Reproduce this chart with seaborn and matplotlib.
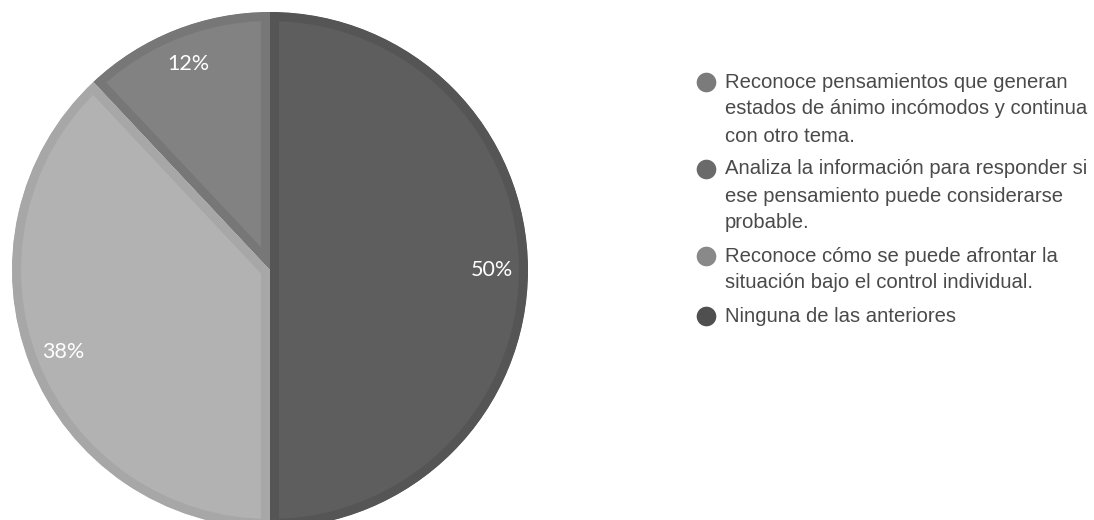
import matplotlib
matplotlib.use("Agg")
import matplotlib.pyplot as plt
import seaborn as sns

sns.set_theme(style="white")

# Response categories (legend order) and their shares in percent
categories = [
    "Reconoce pensamientos que generan\nestados de ánimo incómodos y continua\ncon otro tema.",
    "Analiza la información para responder si\nese pensamiento puede considerarse\nprobable.",
    "Reconoce cómo se puede afrontar la\nsituación bajo el control individual.",
    "Ninguna de las anteriores",
]
shares = [12, 0, 38, 50]

# Slice fills, inner rim shades and legend marker shades
slice_colors = ["#828282", "#6e6e6e", "#b2b2b2", "#5e5e5e"]
rim_colors = ["#777777", "#646464", "#a7a7a7", "#555555"]
marker_colors = ["#7b7b7b", "#6a6a6a", "#898989", "#4f4f4f"]

W, H, DPI = 1094, 520, 100
fig = plt.figure(figsize=(W / DPI, H / DPI), dpi=DPI)
fig.patch.set_facecolor("white")

# Pie axes: circle centred at (270, 270) px with radius 258 px
cx, cy, r = 270, 270, 258
ax = fig.add_axes([(cx - r) / W, (H - cy - r) / H, 2 * r / W, 2 * r / H])


def pct_label(p):
    return f"{p:.0f}%" if p >= 0.5 else ""


wedges, texts, autotexts = ax.pie(
    shares,
    colors=slice_colors,
    startangle=90,
    counterclock=True,
    autopct=pct_label,
    pctdistance=0.86,
    radius=1.0,
    textprops=dict(color="white", fontsize=15.5, family="Lato"),
)
ax.set_xlim(-1, 1)
ax.set_ylim(-1, 1)
ax.set_aspect("equal")
ax.axis("off")

# Inner rim on every slice: a wide stroke clipped to the slice outline,
# so only its inner half shows
for w, rc in zip(wedges, rim_colors):
    w.set_edgecolor(rc)
    w.set_linewidth(13)
    w.set_clip_on(True)
    w.set_clip_path(w.get_path(), w.get_transform())

# Legend drawn in a pixel-coordinate overlay
lax = fig.add_axes([0, 0, 1, 1], facecolor="none")
lax.set_xlim(0, W)
lax.set_ylim(H, 0)
lax.axis("off")

line_step = 27
item_gap = 33
y = 82
marker_x, text_x = 706, 725
for label, mc in zip(categories, marker_colors):
    n_lines = label.count("\n") + 1
    lax.scatter([marker_x], [y], s=200, color=mc, linewidths=0, zorder=3)
    for k, line in enumerate(label.split("\n")):
        lax.text(text_x, y + k * line_step, line, va="center", ha="left",
                 fontsize=14.6, family="Liberation Sans", color="#4a4a4a")
    y += (n_lines - 1) * line_step + item_gap

fig.savefig("out.png", dpi=DPI, facecolor="white")
